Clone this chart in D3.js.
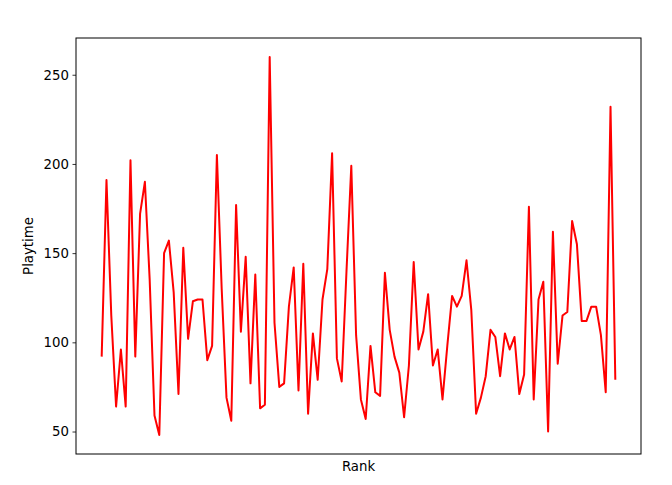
<!DOCTYPE html>
<html>
<head>
<meta charset="utf-8">
<script src="https://cdn.jsdelivr.net/npm/d3@7"></script>
<style>
  html, body { margin: 0; padding: 0; background: #fff; }
  svg { display: block; font-family: "DejaVu Sans", sans-serif; }
</style>
</head>
<body>
<svg id="chart" width="672" height="485"></svg>
<script>
const playtime = [
  92, 191, 115, 64, 96, 64, 202, 92, 172, 190,
  135, 59, 48, 150, 157, 128, 71, 153, 102, 123,
  124, 124, 90, 98, 205, 130, 69, 56, 177, 106,
  148, 77, 138, 63, 65, 260, 111, 75, 77, 120,
  142, 73, 144, 60, 105, 79, 124, 141, 206, 91,
  78, 140, 199, 104, 68, 57, 98, 72, 70, 139,
  107, 92, 83, 58, 87, 145, 96, 106, 127, 87,
  96, 68, 98, 126, 120, 126, 146, 118, 60, 69,
  81, 107, 103, 81, 105, 96, 103, 71, 82, 176,
  68, 124, 134, 50, 162, 88, 115, 117, 168, 155,
  112, 112, 120, 120, 104, 72, 232, 79
];
const ranks = playtime.map((_, i) => i + 1);
const yTicks = [50, 100, 150, 200, 250];

(function () {
  const svg = d3.select("#chart");
  const mLeft = 76, mRight = 641, mTop = 38, mBottom = 454;

  const n = ranks.length;
  const xPad = (ranks[n - 1] - ranks[0]) * 0.05;
  const x = d3.scaleLinear()
    .domain([ranks[0] - xPad, ranks[n - 1] + xPad])
    .range([mLeft, mRight]);

  const yMin = d3.min(playtime), yMax = d3.max(playtime);
  const yPad = (yMax - yMin) * 0.05;
  const y = d3.scaleLinear()
    .domain([yMin - yPad, yMax + yPad])
    .range([mBottom, mTop]);

  const line = d3.line()
    .x((d, i) => x(ranks[i]))
    .y(d => y(d));

  svg.append("path")
    .datum(playtime)
    .attr("fill", "none")
    .attr("stroke", "#ff0000")
    .attr("stroke-width", 2)
    .attr("stroke-linejoin", "round")
    .attr("d", line);

  const yAxis = d3.axisLeft(y)
    .tickValues(yTicks)
    .tickSize(3.5)
    .tickPadding(3.5)
    .tickFormat(d3.format("d"));

  const gy = svg.append("g")
    .attr("transform", `translate(${mLeft},0)`)
    .call(yAxis);
  gy.select(".domain").remove();
  gy.selectAll(".tick line").attr("stroke", "#000").attr("stroke-width", 0.8);
  gy.selectAll(".tick text")
    .attr("fill", "#000")
    .style("font-size", "13.3px")
    .style("font-family", "'DejaVu Sans', sans-serif");

  svg.append("rect")
    .attr("x", mLeft)
    .attr("y", mTop)
    .attr("width", mRight - mLeft)
    .attr("height", mBottom - mTop)
    .attr("fill", "none")
    .attr("stroke", "#000")
    .attr("stroke-width", 1);

  svg.append("text")
    .attr("x", (mLeft + mRight) / 2)
    .attr("y", 471)
    .attr("text-anchor", "middle")
    .style("font-size", "13.3px")
    .attr("fill", "#000")
    .text("Rank");

  svg.append("text")
    .attr("transform", `translate(33,${(mTop + mBottom) / 2}) rotate(-90)`)
    .attr("text-anchor", "middle")
    .style("font-size", "13.3px")
    .attr("fill", "#000")
    .text("Playtime");
})();
</script>
</body>
</html>
